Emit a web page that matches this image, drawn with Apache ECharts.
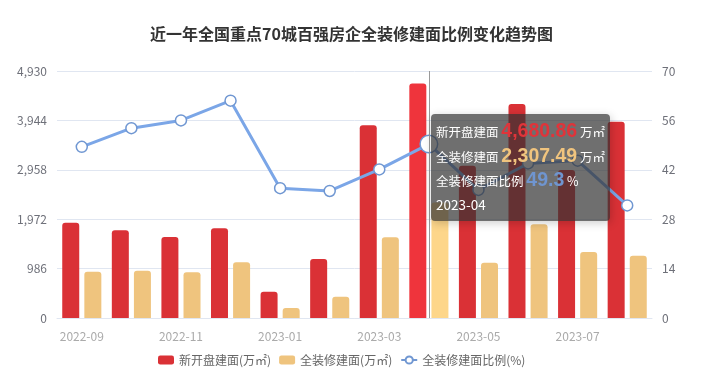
<!DOCTYPE html>
<html>
<head>
<meta charset="utf-8">
<script src="https://cdn.jsdelivr.net/npm/echarts@6/dist/echarts.min.js"></script>
<style>
html,body{margin:0;padding:0;background:#fff;}
#main{width:708px;height:384px;}
</style>
</head>
<body>
<div id="main"></div>
<script>
var months = ['2022-09','2022-10','2022-11','2022-12','2023-01','2023-02','2023-03','2023-04','2023-05','2023-06','2023-07','2023-08'];
var newOpen = [1902, 1750, 1617, 1790, 525, 1178, 3846, 4680.86, 3040, 4271, 2954, 3918];
var fullDecor = [924, 944, 912, 1111, 200, 425, 1611, 2307.49, 1104, 1870, 1317, 1243];
var ratio = [48.5, 53.8, 56.0, 61.6, 36.8, 36.0, 42.1, 49.3, 36.3, 43.8, 44.6, 31.9];
var leftTicks = [0, 986, 1972, 2958, 3944, 4930];
var rightTicks = [0, 14, 28, 42, 56, 70];
var names = ['新开盘建面(万㎡)', '全装修建面(万㎡)', '全装修建面比例(%)'];

var FONT = '"Noto Sans CJK SC", "Noto Sans", sans-serif';
var chart = echarts.init(document.getElementById('main'));
function fmt(v){ return v.toLocaleString('en-US',{minimumFractionDigits:2, maximumFractionDigits:2}); }
var VAL = 'font-family:\'Liberation Sans\',Arial,sans-serif;font-size:19.5px;font-weight:bold;';
chart.setOption({
  animation: false,
  textStyle: {fontFamily: FONT},
  title: {
    text: '近一年全国重点70城百强房企全装修建面比例变化趋势图',
    left: 145, top: 21,
    textStyle: {fontSize: 16, fontWeight: 'bold', color: '#333', fontFamily: FONT}
  },
  grid: {left: 57, right: 56, top: 71, bottom: 66},
  legend: {
    left: 153, bottom: 13, itemWidth: 16, itemHeight: 9, itemGap: 8,
    textStyle: {color: '#666', fontSize: 12, fontFamily: FONT},
    data: [names[0], names[1], names[2]]
  },
  tooltip: {
    trigger: 'axis',
    backgroundColor: 'rgba(50,50,50,0.7)',
    borderWidth: 0,
    padding: [5, 5],
    textStyle: {color: '#fff', fontSize: 13, fontFamily: FONT},
    axisPointer: {type: 'line', lineStyle: {color: '#999', width: 1, type: 'solid'}},
    position: function(point){ return [point[0] + 2, 114]; },
    formatter: function(params){
      var i = params[0].dataIndex;
      var s = '<div style="line-height:23.5px;font-size:12.5px">';
      s += '新开盘建面 <span style="color:#e0343a;' + VAL + '">' + fmt(newOpen[i]) + '</span> 万㎡<br>';
      s += '全装修建面 <span style="color:#f0c47e;' + VAL + '">' + fmt(fullDecor[i]) + '</span> 万㎡<br>';
      s += '全装修建面比例 <span style="color:#6f95d0;' + VAL + '">' + ratio[i] + '</span> %<br>';
      s += '<span style="font-size:13.5px">' + months[i] + '</span></div>';
      return s;
    }
  },
  xAxis: {
    type: 'category',
    data: months,
    axisLine: {lineStyle: {color: '#e0e6f1'}},
    axisTick: {alignWithLabel: true, interval: 1, lineStyle: {color: '#e0e6f1'}},
    axisLabel: {interval: 1, color: '#aaa', fontSize: 12, margin: 12, fontFamily: FONT}
  },
  yAxis: [
    {
      type: 'value', min: leftTicks[0], max: leftTicks[5], interval: leftTicks[1],
      axisLabel: {color: '#6e7079', fontSize: 12, margin: 10, fontFamily: FONT,
        formatter: function(v){ return v.toLocaleString('en-US'); }},
      splitLine: {lineStyle: {color: '#e0e6f1'}},
      axisLine: {show: false}, axisTick: {show: false}
    },
    {
      type: 'value', min: rightTicks[0], max: rightTicks[5], interval: rightTicks[1],
      axisLabel: {color: '#6e7079', fontSize: 12, margin: 10, fontFamily: FONT},
      splitLine: {show: false},
      axisLine: {show: false}, axisTick: {show: false}
    }
  ],
  series: [
    {
      name: names[0], type: 'bar', data: newOpen, barWidth: 17, barGap: '30%',
      itemStyle: {color: '#da3136', borderRadius: [3, 3, 0, 0]},
      emphasis: {itemStyle: {color: '#ef343c'}}
    },
    {
      name: names[1], type: 'bar', data: fullDecor, barWidth: 17, barGap: '30%',
      itemStyle: {color: '#efc47e', borderRadius: [3, 3, 0, 0]},
      emphasis: {itemStyle: {color: '#fdd68a'}}
    },
    {
      name: names[2], type: 'line', yAxisIndex: 1, data: ratio,
      symbol: 'circle', symbolSize: 11,
      lineStyle: {color: '#7097d2', width: 3},
      itemStyle: {color: '#fff', borderColor: '#7097d2', borderWidth: 1.5},
      emphasis: {scale: 1.6}
    }
  ]
});
chart.dispatchAction({type: 'showTip', seriesIndex: 0, dataIndex: 7});
</script>
</body>
</html>
